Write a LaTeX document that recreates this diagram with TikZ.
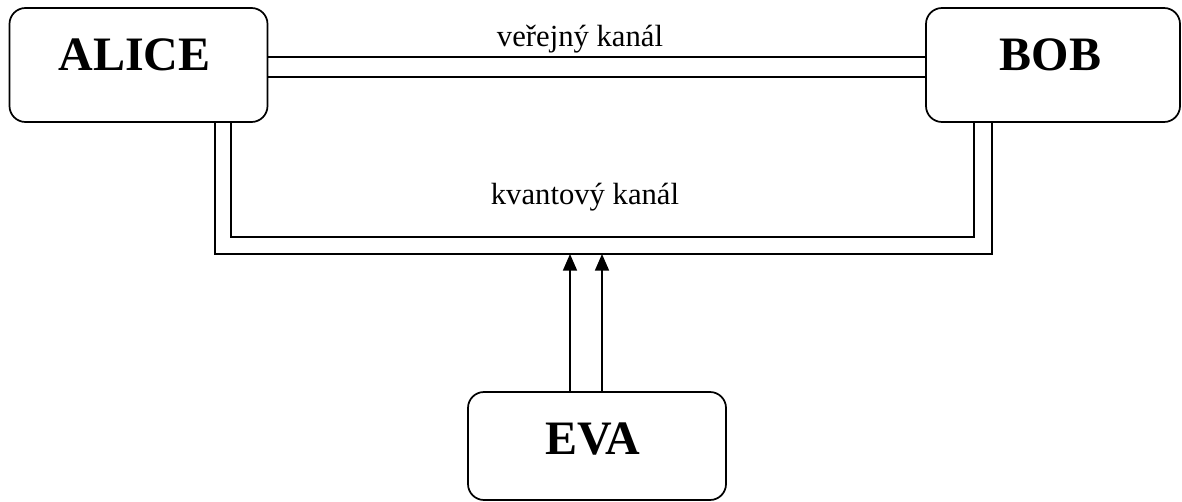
\documentclass[tikz,border=0pt]{standalone}
\usepackage{fontspec}
\setmainfont{Liberation Serif}
\usepackage{tikz}
\usetikzlibrary{arrows.meta,positioning}

\begin{document}
\begin{tikzpicture}[
  x=0.75pt,y=0.75pt,
  party/.style={draw,rounded corners=12pt,line width=1.3pt,inner sep=0pt,
    minimum width=193.5pt,text height=46.5pt,text depth=39pt,
    font=\fontsize{36}{40}\selectfont\bfseries},
  chan/.style={line width=1.3pt},
  lbl/.style={anchor=base,inner sep=0pt,font=\fontsize{23}{26}\selectfont},
  arr/.style={-{Triangle[length=12.5pt,width=10.5pt]},line width=1.3pt}
]
\useasboundingbox (0,0) rectangle (1182,501);
\node[party] (alice) at (138.5,436) {ALICE\hspace*{6pt}};
\node[party,minimum width=190.5pt] (bob) at (1053,436) {BOB\hspace*{4pt}};
\node[party,text depth=34.5pt] (eva) at (597,55) {EVA\hspace*{6pt}};
\coordinate (qin) at (597,264);
\coordinate (qout) at (597,247);
\node[lbl] (pub) at (580,454) {veřejný kanál};
\node[lbl] (quant) at (585,297) {kvantový kanál};
% public channel
\draw[chan] ([yshift=6pt]alice.east) -- ([yshift=6pt]bob.west);
\draw[chan] ([yshift=-9pt]alice.east) -- ([yshift=-9pt]bob.west);
% quantum channel
\draw[chan] ([xshift=69.4pt]alice.south) |- (qin) -| ([xshift=-59.25pt]bob.south);
\draw[chan] ([xshift=57.4pt]alice.south) |- (qout) -| ([xshift=-45.75pt]bob.south);
% eavesdropper taps the line
\draw[arr] ([xshift=-20.25pt]eva.north) -- ([xshift=-20.25pt]eva.north |- qout);
\draw[arr] ([xshift=3.75pt]eva.north) -- ([xshift=3.75pt]eva.north |- qout);
\end{tikzpicture}
\end{document}
